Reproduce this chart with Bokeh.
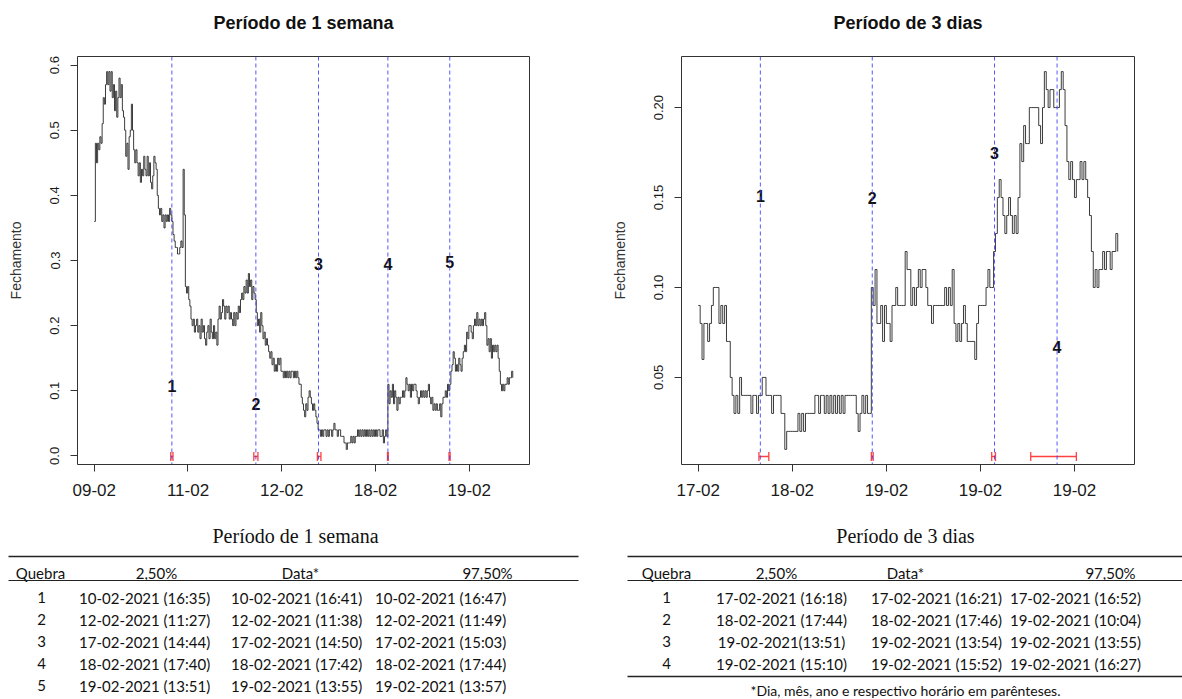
import math
from bokeh.plotting import figure
from bokeh.models import Range1d, FixedTicker, Span, PrintfTickFormatter, ColumnDataSource
from bokeh.layouts import column, row
from bokeh.embed import file_html
from bokeh.resources import INLINE
from bokeh.core.properties import value

# ---------------- data ----------------
# "Período de 1 semana": closing price, one value every 6 observations
obs_step_sem = 6
fech_sem = [
    0.36, 0.48, 0.45, 0.48, 0.47, 0.49, 0.48, 0.51, 0.55, 0.54,
    0.57, 0.59, 0.57, 0.59, 0.56, 0.59, 0.55, 0.57, 0.53, 0.56,
    0.52, 0.55, 0.58, 0.55, 0.57, 0.53, 0.52, 0.50, 0.46, 0.48,
    0.44, 0.49, 0.50, 0.54, 0.50, 0.47, 0.45, 0.47, 0.45, 0.43,
    0.45, 0.42, 0.44, 0.43, 0.46, 0.44, 0.43, 0.46, 0.43, 0.45,
    0.42, 0.41, 0.43, 0.46, 0.45, 0.44, 0.40, 0.38, 0.37, 0.38,
    0.36, 0.37, 0.35, 0.37, 0.36, 0.37, 0.36, 0.38, 0.37, 0.36,
    0.34, 0.33, 0.32, 0.32, 0.31, 0.31, 0.32, 0.33, 0.32, 0.44,
    0.37, 0.26, 0.25, 0.26, 0.24, 0.23, 0.21, 0.20, 0.21, 0.19,
    0.20, 0.21, 0.19, 0.20, 0.18, 0.21, 0.19, 0.20, 0.18, 0.17,
    0.19, 0.20, 0.18, 0.21, 0.19, 0.18, 0.20, 0.18, 0.19, 0.17,
    0.21, 0.23, 0.21, 0.22, 0.24, 0.23, 0.21, 0.23, 0.22, 0.23,
    0.21, 0.22, 0.21, 0.20, 0.22, 0.20, 0.22, 0.21, 0.23, 0.22,
    0.24, 0.25, 0.24, 0.26, 0.25, 0.27, 0.25, 0.28, 0.26, 0.27,
    0.24, 0.26, 0.25, 0.24, 0.22, 0.20, 0.21, 0.19, 0.22, 0.20,
    0.18, 0.19, 0.17, 0.18, 0.17, 0.16, 0.15, 0.16, 0.14, 0.15,
    0.13, 0.14, 0.13, 0.15, 0.14, 0.15, 0.13, 0.13, 0.12, 0.13,
    0.12, 0.13, 0.12, 0.13, 0.12, 0.13, 0.13, 0.12, 0.13, 0.12,
    0.13, 0.12, 0.11, 0.11, 0.09, 0.08, 0.07, 0.06, 0.08, 0.07,
    0.09, 0.10, 0.09, 0.08, 0.07, 0.08, 0.07, 0.06, 0.05, 0.04,
    0.04, 0.03, 0.04, 0.03, 0.04, 0.04, 0.03, 0.04, 0.03, 0.04,
    0.04, 0.03, 0.04, 0.05, 0.04, 0.04, 0.03, 0.04, 0.04, 0.03,
    0.03, 0.03, 0.02, 0.02, 0.01, 0.02, 0.02, 0.02, 0.03, 0.02,
    0.03, 0.02, 0.03, 0.03, 0.04, 0.03, 0.04, 0.03, 0.04, 0.03,
    0.04, 0.03, 0.04, 0.03, 0.04, 0.03, 0.04, 0.03, 0.04, 0.03,
    0.04, 0.03, 0.04, 0.04, 0.03, 0.03, 0.04, 0.02, 0.03, 0.04,
    0.03, 0.11, 0.08, 0.10, 0.09, 0.11, 0.08, 0.10, 0.09, 0.07,
    0.09, 0.08, 0.09, 0.09, 0.10, 0.09, 0.10, 0.12, 0.11, 0.10,
    0.11, 0.09, 0.11, 0.10, 0.11, 0.11, 0.10, 0.09, 0.08, 0.09,
    0.10, 0.09, 0.10, 0.09, 0.10, 0.09, 0.10, 0.11, 0.09, 0.08,
    0.09, 0.07, 0.08, 0.07, 0.08, 0.07, 0.07, 0.08, 0.06, 0.08,
    0.09, 0.09, 0.10, 0.09, 0.11, 0.10, 0.11, 0.13, 0.14, 0.16,
    0.15, 0.13, 0.14, 0.13, 0.15, 0.14, 0.13, 0.15, 0.16, 0.17,
    0.16, 0.19, 0.18, 0.20, 0.20, 0.19, 0.18, 0.20, 0.21, 0.20,
    0.22, 0.20, 0.21, 0.20, 0.21, 0.20, 0.21, 0.22, 0.20, 0.17,
    0.18, 0.16, 0.18, 0.15, 0.17, 0.16, 0.17, 0.16, 0.17, 0.15,
    0.13, 0.11, 0.10, 0.11, 0.10, 0.11, 0.11, 0.12, 0.11, 0.12,
    0.12, 0.13, 0.12,
]
ticks_sem = [0, 500, 1000, 1500, 2000]
tick_labels_sem = ["09-02", "11-02", "12-02", "18-02", "19-02"]
quebras_sem = [414, 862, 1196, 1566, 1896]
ic_lo_sem = [408, 851, 1190, 1564, 1892]
ic_hi_sem = [420, 873, 1209, 1568, 1898]
rotulo_y_sem = [0.108, 0.079, 0.295, 0.295, 0.297]
rotulos_sem = ["1", "2", "3", "4", "5"]

# "Período de 3 dias": closing price, one value every 4 observations
obs_step_3d = 4
fech_3d = [
    0.09, 0.08, 0.06, 0.08, 0.08, 0.07, 0.08, 0.09, 0.10, 0.10,
    0.10, 0.08, 0.09, 0.08, 0.09, 0.07, 0.07, 0.05, 0.04, 0.03,
    0.04, 0.03, 0.05, 0.04, 0.04, 0.04, 0.04, 0.04, 0.03, 0.04,
    0.04, 0.03, 0.04, 0.04, 0.05, 0.05, 0.04, 0.04, 0.04, 0.03,
    0.04, 0.04, 0.04, 0.04, 0.03, 0.03, 0.01, 0.02, 0.02, 0.02,
    0.02, 0.02, 0.02, 0.03, 0.02, 0.03, 0.02, 0.03, 0.03, 0.03,
    0.03, 0.03, 0.04, 0.04, 0.03, 0.04, 0.04, 0.03, 0.04, 0.03,
    0.04, 0.03, 0.04, 0.03, 0.04, 0.03, 0.04, 0.03, 0.04, 0.04,
    0.04, 0.04, 0.04, 0.04, 0.03, 0.02, 0.03, 0.04, 0.03, 0.04,
    0.03, 0.03, 0.10, 0.09, 0.11, 0.08, 0.08, 0.09, 0.07, 0.09,
    0.08, 0.08, 0.07, 0.09, 0.09, 0.10, 0.09, 0.09, 0.09, 0.09,
    0.12, 0.11, 0.11, 0.09, 0.10, 0.09, 0.10, 0.11, 0.10, 0.11,
    0.11, 0.10, 0.09, 0.09, 0.08, 0.09, 0.09, 0.09, 0.09, 0.09,
    0.09, 0.10, 0.09, 0.10, 0.09, 0.11, 0.08, 0.07, 0.08, 0.07,
    0.08, 0.09, 0.08, 0.07, 0.07, 0.07, 0.07, 0.06, 0.08, 0.09,
    0.09, 0.09, 0.09, 0.10, 0.11, 0.10, 0.10, 0.12, 0.13, 0.15,
    0.16, 0.15, 0.14, 0.13, 0.14, 0.15, 0.14, 0.13, 0.14, 0.13,
    0.15, 0.18, 0.17, 0.19, 0.18, 0.18, 0.20, 0.20, 0.20, 0.20,
    0.20, 0.19, 0.18, 0.20, 0.22, 0.21, 0.20, 0.21, 0.21, 0.20,
    0.20, 0.20, 0.21, 0.22, 0.21, 0.19, 0.17, 0.16, 0.17, 0.16,
    0.15, 0.16, 0.16, 0.17, 0.16, 0.17, 0.16, 0.15, 0.14, 0.12,
    0.10, 0.11, 0.10, 0.11, 0.11, 0.12, 0.11, 0.12, 0.12, 0.11,
    0.12, 0.12, 0.13, 0.12,
]
ticks_3d = [0, 200, 400, 600, 800]
tick_labels_3d = ["17-02", "18-02", "19-02", "19-02", "19-02"]
quebras_3d = [132, 370, 630, 763]
ic_lo_3d = [129, 368, 624, 707]
ic_hi_3d = [150, 372, 632, 804]
rotulo_y_3d = [0.151, 0.150, 0.175, 0.067]
rotulos_3d = ["1", "2", "3", "4"]

# tables
cabecalho = ["Quebra", "2,50%", "Data*", "97,50%"]
quebra_sem = ["1", "2", "3", "4", "5"]
inf_sem = ["10-02-2021  (16:35)", "12-02-2021  (11:27)", "17-02-2021  (14:44)",
           "18-02-2021  (17:40)", "19-02-2021  (13:51)"]
data_sem = ["10-02-2021  (16:41)", "12-02-2021  (11:38)", "17-02-2021  (14:50)",
            "18-02-2021  (17:42)", "19-02-2021  (13:55)"]
sup_sem = ["10-02-2021  (16:47)", "12-02-2021  (11:49)", "17-02-2021  (15:03)",
           "18-02-2021  (17:44)", "19-02-2021  (13:57)"]
quebra_3d = ["1", "2", "3", "4"]
inf_3d = ["17-02-2021 (16:18)", "18-02-2021 (17:44)", "19-02-2021(13:51)", "19-02-2021 (15:10)"]
data_3d = ["17-02-2021 (16:21)", "18-02-2021 (17:46)", "19-02-2021 (13:54)", "19-02-2021 (15:52)"]
sup_3d = ["17-02-2021 (16:52)", "19-02-2021 (10:04)", "19-02-2021 (13:55)", "19-02-2021 (16:27)"]
nota = "*Dia, mês, ano e respectivo horário em parênteses."

SANS = "Liberation Sans"
TITLE_H = 46


def blank_fig(width, height):
    f = figure(width=width, height=height, output_backend="svg", toolbar_location=None,
               x_range=Range1d(0, width), y_range=Range1d(height, 0),
               x_axis_location=None, y_axis_location=None,
               min_border=0, min_border_left=0, min_border_right=0,
               min_border_top=0, min_border_bottom=0)
    f.grid.visible = False
    f.outline_line_color = None
    return f


def title_fig(width, text, cx):
    f = blank_fig(width, TITLE_H)
    f.text(x=[cx], y=[22], text=[text], text_align="center", text_baseline="middle",
           text_font=value(SANS), text_font_size="18px", text_font_style="bold",
           text_color="#111111")
    return f


def r_plot(vals, step, ticks, tlabels, yticks, yfmt, breaks, lab_y, labs,
           ci_lo, ci_hi, frame_w, bl, br):
    x = [step * i for i in range(len(vals))]
    n = x[-1]
    xpad = 0.04 * n
    ymin, ymax = min(vals), max(vals)
    ypad = 0.04 * (ymax - ymin)
    y0, y1 = ymin - ypad, ymax + ypad
    p = figure(frame_width=frame_w, frame_height=408, output_backend="svg",
               toolbar_location=None, x_range=Range1d(-xpad, n + xpad),
               y_range=Range1d(y0, y1), min_border_left=bl, min_border_right=br,
               min_border_top=10, min_border_bottom=44)
    p.outline_line_color = "#333333"
    p.outline_line_width = 1
    p.grid.visible = False
    for ax in (p.xaxis[0], p.yaxis[0]):
        ax.axis_line_color = None
        ax.major_tick_out = 7
        ax.major_tick_in = 0
        ax.minor_tick_line_color = None
        ax.major_tick_line_color = "#333333"
        ax.major_label_text_font = SANS
        ax.major_label_text_color = "#1a1a1a"
    p.xaxis.ticker = FixedTicker(ticks=ticks)
    p.xaxis.major_label_overrides = {t: l for t, l in zip(ticks, tlabels)}
    p.xaxis.major_label_text_font_size = "17px"
    p.xaxis.major_label_standoff = 12
    p.yaxis.ticker = FixedTicker(ticks=yticks)
    p.yaxis.formatter = PrintfTickFormatter(format=yfmt)
    p.yaxis.major_label_orientation = "vertical"
    p.yaxis.major_label_text_font_size = "13px"
    p.yaxis.major_label_standoff = 11
    p.yaxis.axis_label = "Fechamento"
    p.yaxis.axis_label_text_font = SANS
    p.yaxis.axis_label_text_font_size = "14px"
    p.yaxis.axis_label_text_font_style = "normal"
    p.yaxis.axis_label_text_color = "#333333"
    p.yaxis.axis_label_standoff = 24

    p.step(x, vals, mode="after", line_color="#262626", line_width=0.9)

    for b in breaks:
        p.add_layout(Span(location=b, dimension="height", line_color="#3a3aff",
                          line_alpha=0.85, line_dash="4 3", line_width=1))

    # confidence intervals drawn 8px above the frame bottom
    yci = y0 + 8.0 / 408 * (y1 - y0)
    ci = ColumnDataSource(dict(lo=ci_lo, hi=ci_hi, y=[yci] * len(ci_lo)))
    p.segment(x0="lo", y0="y", x1="hi", y1="y", source=ci, line_color="#ff4040",
              line_width=1.3)
    p.scatter(x="lo", y="y", source=ci, marker="dash", angle=math.pi / 2, size=9,
              line_color="#ff4040", line_width=1.3)
    p.scatter(x="hi", y="y", source=ci, marker="dash", angle=math.pi / 2, size=9,
              line_color="#ff4040", line_width=1.3)

    p.text(x=breaks, y=lab_y, text=labs, text_align="center", text_baseline="middle",
           text_font=value(SANS), text_font_size="16px", text_font_style="bold",
           text_color="#111111")
    return p


h1 = title_fig(598, "Período de 1 semana", 77 + 452 / 2)
h2 = title_fig(584, "Período de 3 dias", 83 + 453 / 2)
p1 = r_plot(fech_sem, obs_step_sem, ticks_sem, tick_labels_sem,
            [0.0, 0.1, 0.2, 0.3, 0.4, 0.5, 0.6], "%.1f", quebras_sem, rotulo_y_sem,
            rotulos_sem, ic_lo_sem, ic_hi_sem, 452, 77, 69)
p2 = r_plot(fech_3d, obs_step_3d, ticks_3d, tick_labels_3d,
            [0.05, 0.10, 0.15, 0.20], "%.2f", quebras_3d, rotulo_y_3d,
            rotulos_3d, ic_lo_3d, ic_hi_3d, 453, 83, 48)

TH = 191


def tabela(width, titulo, title_x, head_x, col_x, rule_x0, rule_x1, cols,
           footnote=None, note_x=None):
    t = blank_fig(width, TH)
    t.text(x=[title_x], y=[27], text=[titulo], text_align="center", text_baseline="middle",
           text_font=value("Liberation Serif"), text_font_size="20px", text_color="#111111")
    t.text(x=head_x, y=[64] * 4, text=cabecalho, text_align="center", text_baseline="middle",
           text_font=value("Lato"), text_font_size="15px", text_color="#111111")
    nrows = len(cols[0])
    xs, ys, txt = [], [], []
    for c, colvals in enumerate(cols):
        for r, v in enumerate(colvals):
            xs.append(col_x[c])
            ys.append(89 + 22 * r)
            txt.append(v)
    t.text(x=xs, y=ys, text=txt, text_align="center", text_baseline="middle",
           text_font=value("Lato"), text_font_size="15px", text_color="#111111")
    rx0 = [rule_x0, rule_x0]
    rx1 = [rule_x1, rule_x1]
    ry = [48, 72]
    lw = [1.4, 1.0]
    if footnote is not None:
        rx0.append(rule_x0)
        rx1.append(rule_x1)
        ry.append(89 + 22 * (nrows - 1) + 13)
        lw.append(1.4)
    t.segment(x0=rx0, y0=ry, x1=rx1, y1=ry, line_color="#222222", line_width=lw)
    if footnote is not None:
        t.text(x=[note_x], y=[182], text=[footnote], text_align="center",
               text_baseline="middle", text_font=value("Lato"), text_font_size="14px",
               text_color="#111111")
    return t


t1 = tabela(598, "Período de 1 semana", 295, [40, 156, 300, 487], [41, 146, 298, 442],
            8, 578, [quebra_sem, inf_sem, data_sem, sup_sem])
t2 = tabela(584, "Período de 3 dias", 307, [68, 178, 307, 512], [68, 183, 338, 477],
            29, 584, [quebra_3d, inf_3d, data_3d, sup_3d], footnote=nota, note_x=307)

layout = column(row(h1, h2), row(p1, p2), row(t1, t2))
open("out.html", "w").write(file_html(layout, INLINE))
